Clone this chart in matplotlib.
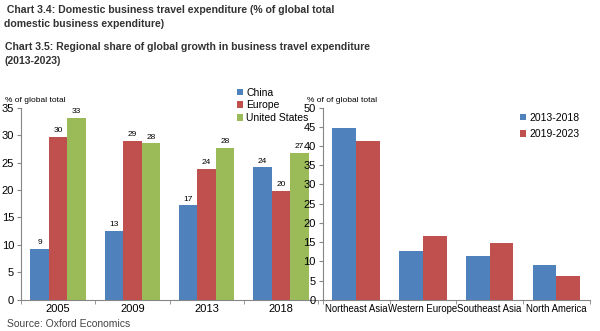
import numpy as np
import matplotlib
matplotlib.use('Agg')
import matplotlib.pyplot as plt

plt.rcParams['font.family'] = ['Liberation Sans', 'DejaVu Sans']

# Chart 3.4 data
years = ['2005', '2009', '2013', '2018']
china = [9.3, 12.6, 17.2, 24.1]
europe = [29.6, 29.0, 23.8, 19.9]
usa = [33.1, 28.5, 27.7, 26.7]
labels_china = ['9', '13', '17', '24']
labels_europe = ['30', '29', '24', '20']
labels_usa = ['33', '28', '28', '27']

# Chart 3.5 data
regions = ['Northeast Asia', 'Western Europe', 'Southeast Asia', 'North America']
share_1318 = [44.8, 12.6, 11.4, 9.0]
share_1923 = [41.2, 16.5, 14.8, 6.1]

BLUE = '#4F81BD'
RED = '#C0504D'
GREEN = '#9BBB59'
AXIS = '#868686'

fig = plt.figure(figsize=(6, 3.31), dpi=100)

fig.text(0.007, 0.985, ' Chart 3.4: Domestic business travel expenditure (% of global total\ndomestic business expenditure)',
         fontsize=7.6, fontweight='bold', color='#333333', va='top', linespacing=1.45)
fig.text(0.008, 0.872, 'Chart 3.5: Regional share of global growth in business travel expenditure\n(2013-2023)',
         fontsize=7.6, fontweight='bold', color='#333333', va='top', linespacing=1.45)
fig.text(0.012, 0.022, 'Source: Oxford Economics', fontsize=7.5, color='#444444', va='center')


def style_axes(ax, n, xsize):
    for s in ['top', 'right']:
        ax.spines[s].set_visible(False)
    for s in ['left', 'bottom']:
        ax.spines[s].set_color(AXIS)
        ax.spines[s].set_linewidth(0.8)
    ax.set_xlim(-0.5, n - 0.5)
    ax.set_xticks(np.arange(n))
    ax.tick_params(axis='x', length=0, labelsize=xsize, pad=3)
    ax.set_xticks(np.arange(n + 1) - 0.5, minor=True)
    ax.tick_params(axis='x', which='minor', length=3, color=AXIS)
    ax.tick_params(axis='y', length=3, color=AXIS, labelsize=8, pad=2)


# Left chart
ax1 = fig.add_axes([0.035, 0.094, 0.495, 0.581])
x = np.arange(len(years))
w = 0.25
b1 = ax1.bar(x - w, china, w, color=BLUE, label='China')
b2 = ax1.bar(x, europe, w, color=RED, label='Europe')
b3 = ax1.bar(x + w, usa, w, color=GREEN, label='United States')
for bars, labs in [(b1, labels_china), (b2, labels_europe), (b3, labels_usa)]:
    ax1.bar_label(bars, labels=labs, padding=2, fontsize=6)
ax1.set_ylim(0, 35)
ax1.set_yticks(range(0, 36, 5))
ax1.set_xticklabels(years)
style_axes(ax1, len(years), 8)
ax1.text(-0.054, 1.02, '% of global total', transform=ax1.transAxes, fontsize=6, ha='left', va='bottom')
ax1.legend(loc='upper left', bbox_to_anchor=(0.71, 1.13), frameon=False, fontsize=7.5,
           handlelength=0.6, handleheight=0.6, handletextpad=0.3, labelspacing=0.25, borderpad=0)

# Right chart
ax2 = fig.add_axes([0.538, 0.094, 0.445, 0.581])
x2 = np.arange(len(regions))
w2 = 0.355
ax2.bar(x2 - w2 / 2, share_1318, w2, color=BLUE, label='2013-2018')
ax2.bar(x2 + w2 / 2, share_1923, w2, color=RED, label='2019-2023')
ax2.set_ylim(0, 50)
ax2.set_yticks(range(0, 51, 5))
ax2.set_xticklabels(regions)
style_axes(ax2, len(regions), 6.9)
ax2.text(-0.06, 1.02, '% of of global total', transform=ax2.transAxes, fontsize=6, ha='left', va='bottom')
ax2.legend(loc='upper left', bbox_to_anchor=(0.72, 1.0), frameon=False, fontsize=7.5,
           handlelength=0.6, handleheight=0.6, handletextpad=0.3, labelspacing=0.6, borderpad=0)

fig.savefig('out.png', dpi=100)
